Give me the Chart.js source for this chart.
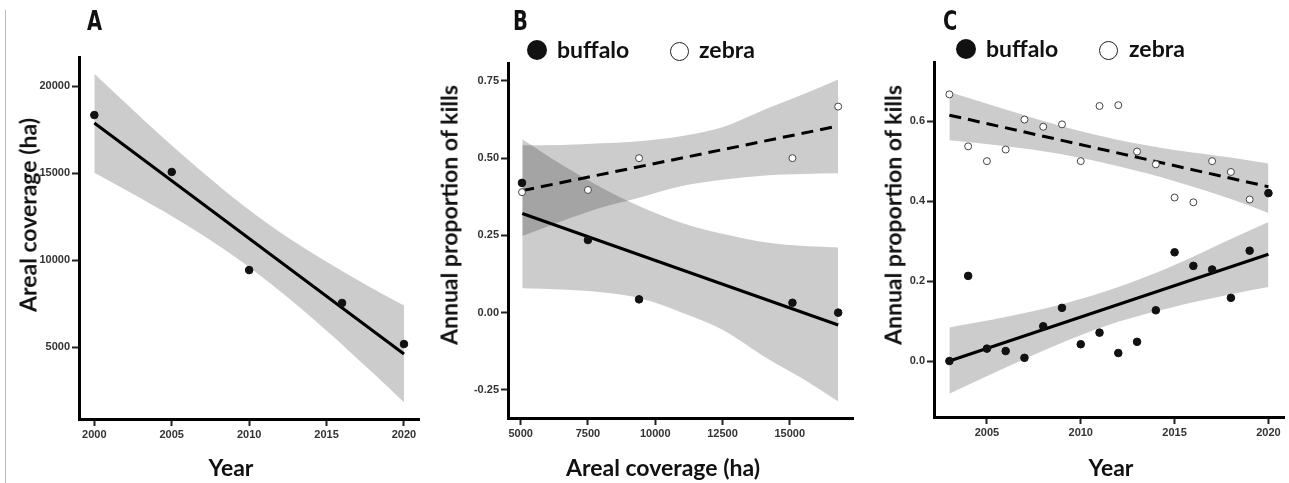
<!DOCTYPE html>
<html>
<head>
<meta charset="utf-8">
<script src="https://cdn.jsdelivr.net/npm/chart.js@4.4.1/dist/chart.umd.min.js"></script>
<style>
  body { margin: 0; background: #fff; width: 1289px; height: 483px; position: relative; overflow: hidden; font-family: Lato, "Open Sans", sans-serif; }
  canvas { position: absolute; top: 0; }
  .lab { position: absolute; font-weight: bold; color: #111; white-space: nowrap; line-height: 1; }
  .panel { font-family: "DejaVu Sans", sans-serif; font-size: 26px; transform: scaleX(0.75); transform-origin: left top; }
  .axt { font-size: 23px; }
  .rot { transform: translate(-50%, -50%) rotate(-90deg); }
  .hor { transform: translateX(-50%); }
  .leg { font-size: 23px; }
  .dot { position: absolute; border-radius: 50%; box-sizing: border-box; }
</style>
</head>
<body>
<div style="position:absolute;left:5px;top:10px;width:1px;height:473px;background:#bbb"></div>

<canvas id="chartA" width="430" height="483" style="left:0px"></canvas>
<canvas id="chartB" width="430" height="483" style="left:430px"></canvas>
<canvas id="chartC" width="429" height="483" style="left:860px"></canvas>

<div class="lab panel" style="left:87px;top:8px">A</div>
<div class="lab panel" style="left:513px;top:8px">B</div>
<div class="lab panel" style="left:943px;top:8px">C</div>

<div class="dot" style="left:527px;top:40px;width:20px;height:20px;background:#111"></div>
<div class="lab leg" style="left:557px;top:38px">buffalo</div>
<div class="dot" style="left:670px;top:42px;width:19px;height:19px;border:1.3px solid #222"></div>
<div class="lab leg" style="left:699px;top:38px">zebra</div>

<div class="dot" style="left:956px;top:39px;width:20px;height:20px;background:#111"></div>
<div class="lab leg" style="left:986px;top:37px">buffalo</div>
<div class="dot" style="left:1099px;top:41px;width:19px;height:19px;border:1.3px solid #222"></div>
<div class="lab leg" style="left:1129px;top:37px">zebra</div>

<div class="lab axt rot" style="left:28px;top:215px">Areal coverage (ha)</div>
<div class="lab axt hor" style="left:231px;top:456px">Year</div>
<div class="lab axt rot" style="left:449px;top:215px">Annual proportion of kills</div>
<div class="lab axt hor" style="left:663px;top:456px">Areal coverage (ha)</div>
<div class="lab axt rot" style="left:893px;top:215px">Annual proportion of kills</div>
<div class="lab axt hor" style="left:1111px;top:456px">Year</div>

<script>
// A: areal coverage by year
const yearsA = [2000, 2005, 2010, 2016, 2020]
const coverageA = [18330, 15060, 9420, 7530, 5170]
const fitYearsA = [2000, 2020]
const fitCoverageA = [17870, 4600]
const bandYearsA = [2000, 2003, 2006, 2009, 2012, 2015, 2018, 2020]
const bandUpperA = [20700, 18200, 15800, 13570, 11600, 9900, 8350, 7380]
const bandLowerA = [15020, 13550, 11980, 10230, 8210, 5940, 3500, 1820]
const xTicksA = [2000, 2005, 2010, 2015, 2020]
const xLabelsA = ['2000', '2005', '2010', '2015', '2020']
const yTicksA = [5000, 10000, 15000, 20000]
const yLabelsA = ['5000', '10000', '15000', '20000']

// B: kills vs areal coverage
const coverageB = [5050, 7500, 9400, 15100, 16800]
const buffaloB = [0.42, 0.235, 0.043, 0.032, 0.0]
const zebraB = [0.39, 0.397, 0.5, 0.5, 0.667]
const fitCoverageB = [5060, 16800]
const fitBuffaloB = [0.321, -0.04]
const fitZebraB = [0.395, 0.604]
const bandCoverageB = [5060, 6500, 8000, 9400, 11000, 12500, 14200, 15500, 16800]
const buffaloUpperB = [0.561, 0.48, 0.405, 0.345, 0.29, 0.255, 0.226, 0.216, 0.211]
const buffaloLowerB = [0.079, 0.075, 0.066, 0.047, 0.0, -0.055, -0.15, -0.215, -0.288]
const zebraUpperB = [0.542, 0.543, 0.548, 0.555, 0.572, 0.6, 0.662, 0.707, 0.755]
const zebraLowerB = [0.248, 0.295, 0.34, 0.372, 0.41, 0.43, 0.445, 0.449, 0.451]
const xTicksB = [5000, 7500, 10000, 12500, 15000]
const xLabelsB = ['5000', '7500', '10000', '12500', '15000']
const yTicksB = [-0.25, 0, 0.25, 0.5, 0.75]
const yLabelsB = ['-0.25', '0.00', '0.25', '0.50', '0.75']

// C: kills by year
const yearsC = [2003, 2004, 2005, 2006, 2007, 2008, 2009, 2010, 2011, 2012, 2013, 2014, 2015, 2016, 2017, 2018, 2019, 2020]
const buffaloC = [0.0, 0.213, 0.031, 0.025, 0.008, 0.087, 0.133, 0.042, 0.071, 0.02, 0.048, 0.127, 0.272, 0.238, 0.229, 0.158, 0.276, 0.42]
const zebraYearsC = [2003, 2004, 2005, 2006, 2007, 2008, 2009, 2010, 2011, 2012, 2013, 2014, 2015, 2016, 2017, 2018, 2019]
const zebraC = [0.667, 0.537, 0.5, 0.529, 0.604, 0.586, 0.592, 0.5, 0.638, 0.64, 0.524, 0.492, 0.409, 0.397, 0.5, 0.473, 0.404]
const fitYearsC = [2003, 2020]
const fitBuffaloC = [0.0, 0.267]
const fitZebraC = [0.615, 0.436]
const bandYearsC = [2003, 2006, 2009, 2012, 2015, 2018, 2020]
const buffaloUpperC = [0.084, 0.11, 0.142, 0.185, 0.24, 0.305, 0.348]
const buffaloLowerC = [-0.082, -0.016, 0.046, 0.098, 0.136, 0.167, 0.185]
const zebraUpperC = [0.673, 0.629, 0.587, 0.553, 0.528, 0.509, 0.494]
const zebraLowerC = [0.552, 0.537, 0.517, 0.487, 0.45, 0.405, 0.37]
const xTicksC = [2005, 2010, 2015, 2020]
const xLabelsC = ['2005', '2010', '2015', '2020']
const yTicksC = [0, 0.2, 0.4, 0.6]
const yLabelsC = ['0.0', '0.2', '0.4', '0.6']

const bandColor = 'rgba(0,0,0,0.2)'
const tickFont = { family: 'Liberation Sans, Arial, sans-serif', size: 11, weight: 'bold' }

const pairs = (xs, ys) => xs.map((x, i) => ({ x: x, y: ys[i] }))

function points(xs, ys, open) {
  return {
    data: pairs(xs, ys), showLine: false,
    pointRadius: open ? 3.5 : 3.8,
    pointBackgroundColor: open ? '#fff' : '#111',
    pointBorderColor: open ? '#444' : '#111',
    pointBorderWidth: 1
  }
}
function fit(xs, ys, dashed) {
  return {
    data: pairs(xs, ys), borderColor: '#000', borderWidth: 3,
    borderDash: dashed ? [12, 7] : [], pointRadius: 0, fill: false
  }
}
// confidence ribbon: upper edge filled down to the lower edge
function band(xs, upper, lower) {
  const edge = { borderColor: 'transparent', borderWidth: 0, pointRadius: 0, cubicInterpolationMode: 'monotone' }
  return [
    Object.assign({ data: pairs(xs, upper), fill: '+1', backgroundColor: bandColor }, edge),
    Object.assign({ data: pairs(xs, lower), fill: false }, edge)
  ]
}

function axis(o) {
  return {
    type: 'linear', min: o.min, max: o.max,
    afterBuildTicks: s => { s.ticks = o.ticks.map(v => ({ value: v })) },
    afterFit: s => { if (o.width) s.width = o.width; if (o.height) s.height = o.height },
    ticks: { font: tickFont, color: '#333', padding: o.pad, maxRotation: 0, autoSkip: false,
      callback: (v, i) => o.labels[i] },
    grid: { drawOnChartArea: false, tickLength: 7, tickWidth: 2, tickColor: '#222' },
    border: { color: '#000', width: 3 }
  }
}

function draw(id, datasets, pad, x, y) {
  new Chart(document.getElementById(id), {
    type: 'line',
    data: { datasets: datasets },
    options: {
      responsive: false, animation: false, devicePixelRatio: 1, events: [],
      layout: { padding: pad },
      plugins: { legend: { display: false }, tooltip: { enabled: false } },
      scales: { x: axis(x), y: axis(y) }
    }
  })
}

draw('chartA',
  [points(yearsA, coverageA, false), fit(fitYearsA, fitCoverageA, false)].concat(band(bandYearsA, bandUpperA, bandLowerA)),
  { left: 0, top: 57, right: 11, bottom: 0 },
  { min: 1999.01, max: 2020.97, ticks: xTicksA, labels: xLabelsA, height: 64, pad: 2 },
  { min: 862, max: 21667, ticks: yTicksA, labels: yLabelsA, width: 79, pad: 2 })

draw('chartB',
  [points(coverageB, buffaloB, false), points(coverageB, zebraB, true),
   fit(fitCoverageB, fitBuffaloB, false), fit(fitCoverageB, fitZebraB, true)]
    .concat(band(bandCoverageB, buffaloUpperB, buffaloLowerB))
    .concat(band(bandCoverageB, zebraUpperB, zebraLowerB)),
  { left: 0, top: 63, right: 7, bottom: 0 },
  { min: 4530, max: 17350, ticks: xTicksB, labels: xLabelsB, height: 65, pad: 2 },
  { min: -0.341, max: 0.808, ticks: yTicksB, labels: yLabelsB, width: 78, pad: 2 })

draw('chartC',
  [points(yearsC, buffaloC, false), points(zebraYearsC, zebraC, true),
   fit(fitYearsC, fitBuffaloC, false), fit(fitYearsC, fitZebraC, true)]
    .concat(band(bandYearsC, buffaloUpperC, buffaloLowerC))
    .concat(band(bandYearsC, zebraUpperC, zebraLowerC)),
  { left: 0, top: 62, right: 4, bottom: 0 },
  { min: 2002.18, max: 2020.83, ticks: xTicksC, labels: xLabelsC, height: 66, pad: 2 },
  { min: -0.14, max: 0.748, ticks: yTicksC, labels: yLabelsC, width: 74, pad: 2 })
</script>
</body>
</html>
